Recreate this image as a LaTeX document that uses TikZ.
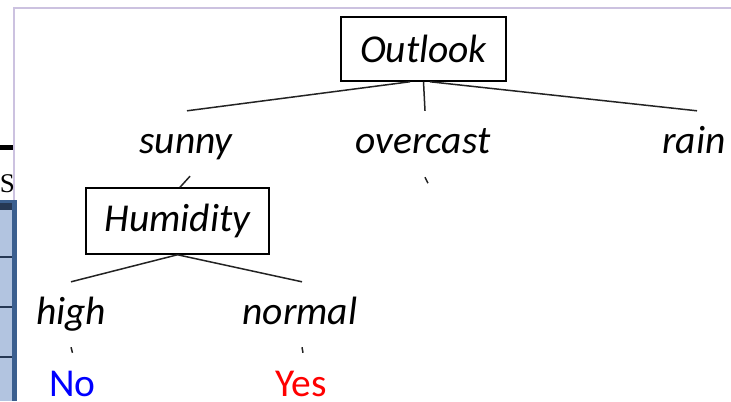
\documentclass[tikz,border=0pt]{standalone}
\usepackage{fontspec}
\setmainfont{Carlito}
\newfontfamily\timesfont{Liberation Serif}
\usetikzlibrary{calc}
\definecolor{framelilac}{RGB}{204,194,224}
\definecolor{cellblue}{RGB}{178,196,224}
\definecolor{cellborder}{RGB}{59,95,143}
\definecolor{cellline}{RGB}{38,56,84}
\definecolor{edgegray}{RGB}{35,35,35}
\tikzset{
  attr/.style={draw, line width=1.5bp, inner sep=0pt, font=\fontsize{39.5bp}{41bp}\selectfont\itshape},
  val/.style={inner sep=0pt, anchor=base, text height=42bp, text depth=23bp, font=\fontsize{39.5bp}{41bp}\selectfont\itshape},
  leaf/.style={inner sep=0pt, anchor=base, text height=43bp, text depth=0pt, font=\fontsize{39.5bp}{41bp}\selectfont},
  edge/.style={draw=edgegray, line width=1.5bp}
}

\begin{document}
\begin{tikzpicture}[x=1bp, y=-1bp]
\useasboundingbox (0,0) rectangle (731,401);
\draw[framelilac, line width=2bp] (14,401) -- (14,8) -- (731,8);
\fill (0,145) rectangle (13,150);
\begin{scope}
\clip (0,160) rectangle (13,200);
\node[anchor=base east, inner sep=0pt, font=\timesfont\fontsize{27bp}{28bp}\selectfont] (as) at (15,192) {AS};
\end{scope}
\fill[cellblue] (0,200) rectangle (17,401);
\fill[cellborder] (0,200) rectangle (17,203);
\fill[cellborder] (12,200) rectangle (17,401);
\fill[cellline] (0,203) rectangle (12,210);
\foreach \y in {256,306,356}
  \fill[cellline] (0,\y) rectangle (12,\y+2);

\node[attr, minimum width=165bp, minimum height=64bp] (outlook) at (423.5,49) {Outlook};
\node[val] (sunny) at (186,153) {sunny};
\node[val] (overcast) at (423,153) {overcast};
\node[val] (rain) at (694,153) {rain};
\node[attr, minimum width=183bp, minimum height=66bp] (humidity) at (177.5,221) {Humidity};
\node[val] (high) at (71,324) {high};
\node[val] (normal) at (300,324) {normal};
\node[leaf, text=blue] (no) at (72.5,396) {No};
\node[leaf, text=red] (yes) at (301,396) {Yes};

\draw[edge] ($(outlook.south)+(-13.5,0)$) -- ($(sunny.north)+(1,0)$);
\draw[edge] (outlook.south) -- ($(overcast.north)+(2,0)$);
\draw[edge] ($(outlook.south)+(6.5,0)$) -- ($(rain.north)+(3,0)$);
\draw[edge] ($(overcast.south)+(2,1)$) -- ($(overcast.south)+(5,7)$);
\draw[edge] ($(sunny.south)+(4,0)$) -- ($(humidity.north)+(2.5,0)$);
\draw[edge] (humidity.south) -- (high.north);
\draw[edge] (humidity.south) -- ($(normal.north)+(2,0)$);
\draw[edge] (high.south) -- (no.north);
\draw[edge] ($(normal.south)+(2,0)$) -- ($(yes.north)+(2,0)$);
\end{tikzpicture}
\end{document}
